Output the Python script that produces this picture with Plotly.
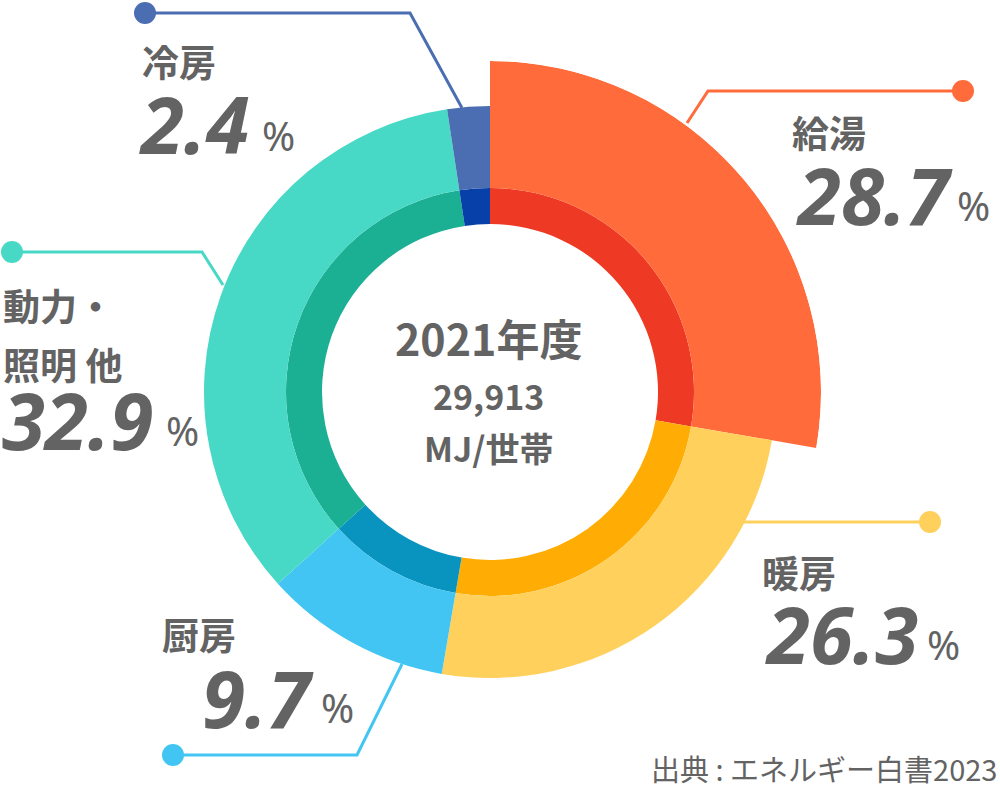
import plotly.graph_objects as go

# ---------------- data ----------------
categories = ["給湯", "暖房", "厨房", "動力・照明 他", "冷房"]
shares = [28.7, 26.3, 9.7, 32.9, 2.4]            # labelled percentages
arc_shares = [27.7, 25.0, 10.6, 34.3, 2.4]       # arc sizes as drawn in the picture (%)
center_title = "2021年度"
center_value = "29,913"
center_unit = "MJ/世帯"
source_text = "出典 : エネルギー白書2023"

# ---------------- styles ----------------
outer_colors = ["#FF6B3B", "#FFD15C", "#42C5F3", "#48D8C6", "#4B6DB2"]
inner_colors = ["#EE3A24", "#FFAD05", "#0994C0", "#1BAF94", "#0740A8"]
W, H = 1000, 788
CX, CY = 490, 392          # ring centre (px)
R_HOLE, R_MID, R_OUT, R_EXPLODE = 168, 204, 286, 331
EXPLODED = "給湯"
TXT = "#636363"
JP = "Noto Sans CJK JP"
NUM = "Noto Sans"

# angular geometry from the data
widths = [s / sum(arc_shares) * 360 for s in arc_shares]
centers = []
acc = 0
for w in widths:
    centers.append(acc + w / 2)
    acc += w

outer_r = [(R_EXPLODE if c == EXPLODED else R_OUT) - R_MID for c in categories]

fig = go.Figure()
fig.add_trace(go.Barpolar(
    r=[R_MID - R_HOLE] * len(categories), base=R_HOLE, theta=centers, width=widths,
    marker=dict(color=inner_colors, line=dict(width=0)), hoverinfo="skip",
))
fig.add_trace(go.Barpolar(
    r=outer_r, base=R_MID, theta=centers, width=widths,
    marker=dict(color=outer_colors, line=dict(width=0)),
    text=categories, hoverinfo="text",
))

def px(x, y):
    return x / W, 1 - y / H

# leader lines (pixel layout) and label placement
leaders = {
    "給湯": [(687, 123), (708, 91), (963, 91)],
    "冷房": [(462, 108), (410, 13), (145, 13)],
    "動力・照明 他": [(223, 285), (202, 252), (12, 252)],
    "暖房": [(743, 522), (930, 522)],
    "厨房": [(402, 664), (357, 755), (173, 755)],
}
# name lines: list of (text, x_left, y_center)
name_pos = {
    "給湯": [("給湯", 790, 132)],
    "冷房": [("冷房", 140, 61)],
    "動力・照明 他": [("動力・", 1, 305), ("照明 他", 1, 364)],
    "暖房": [("暖房", 760, 572)],
    "厨房": [("厨房", 160, 634)],
}
num_pos = {  # (x_left, y_center) of value, (x_left, y_center) of %
    "給湯": ((794, 195), (955, 205)),
    "冷房": ((137, 124), (260, 135)),
    "動力・照明 他": ((0, 420), (164, 430)),
    "暖房": ((763, 634), (925, 644)),
    "厨房": ((200, 698), (319, 707)),
}

shapes = []
annotations = []
for cat, col, val in zip(categories, outer_colors, shares):
    pts = leaders[cat]
    path = "M " + " L ".join(f"{px(x, y)[0]:.5f},{px(x, y)[1]:.5f}" for x, y in pts)
    shapes.append(dict(type="path", path=path, xref="paper", yref="paper",
                       line=dict(color=col, width=3), layer="below"))
    dx, dy = pts[-1]
    r = 11
    x0, y0 = px(dx - r, dy + r)
    x1, y1 = px(dx + r, dy - r)
    shapes.append(dict(type="circle", xref="paper", yref="paper", x0=x0, y0=y0, x1=x1, y1=y1,
                       fillcolor=col, line=dict(width=0), layer="above"))
    for t, x, y in name_pos[cat]:
        ax, ay = px(x, y)
        annotations.append(dict(text=t, x=ax, y=ay, xref="paper", yref="paper",
                                xanchor="left", yanchor="middle", showarrow=False,
                                font=dict(family=JP, size=37, color=TXT, weight=700)))
    (nx, ny), (qx, qy) = num_pos[cat]
    ax, ay = px(nx, ny)
    annotations.append(dict(text=f"{val}", x=ax, y=ay, xref="paper", yref="paper",
                            xanchor="left", yanchor="middle", showarrow=False,
                            font=dict(family=NUM, size=78, color=TXT, weight=700, style="italic")))
    ax, ay = px(qx, qy)
    annotations.append(dict(text="%", x=ax, y=ay, xref="paper", yref="paper",
                            xanchor="left", yanchor="middle", showarrow=False,
                            font=dict(family=NUM, size=40, color=TXT, weight=400)))

for t, y, s in [(center_title, 337, 43), (center_value, 396, 34), (center_unit, 447, 34)]:
    ax, ay = px(CX - 2, y)
    annotations.append(dict(text=t, x=ax, y=ay, xref="paper", yref="paper",
                            xanchor="center", yanchor="middle", showarrow=False,
                            font=dict(family=JP, size=s, color=TXT, weight=700)))

ax, ay = px(999, 768)
annotations.append(dict(text=source_text, x=ax, y=ay, xref="paper", yref="paper",
                        xanchor="right", yanchor="middle", showarrow=False,
                        font=dict(family=JP, size=29, color=TXT, weight=400)))

fig.update_layout(
    width=W, height=H, margin=dict(l=0, r=0, t=0, b=0),
    paper_bgcolor="white", plot_bgcolor="white", showlegend=False,
    polar=dict(
        domain=dict(x=[(CX - R_EXPLODE) / W, (CX + R_EXPLODE) / W],
                    y=[(H - CY - R_EXPLODE) / H, (H - CY + R_EXPLODE) / H]),
        bgcolor="rgba(0,0,0,0)",
        radialaxis=dict(visible=False, range=[0, R_EXPLODE]),
        angularaxis=dict(visible=False, rotation=90, direction="clockwise"),
    ),
    shapes=shapes, annotations=annotations,
)

fig.write_html("out.html")
